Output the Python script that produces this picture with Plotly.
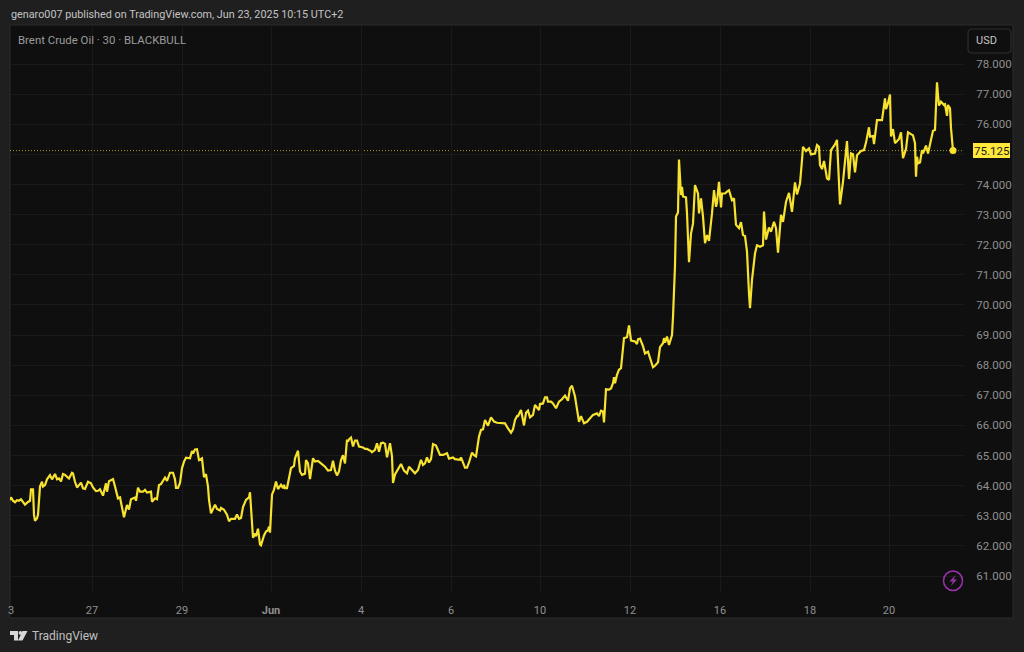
import plotly.graph_objects as go

W, H = 1024, 652

tick_bars = [1, 82, 172, 261, 351, 441, 530, 620, 710, 800, 879]
tick_text = ["3", "27", "29", "<b>Jun</b>", "4", "6", "10", "12", "16", "18", "20"]
price_ticks = [61, 62, 63, 64, 65, 66, 67, 68, 69, 70, 71, 72, 73, 74, 75, 76, 77, 78]
price_labels = ["" if v == 75 else f"{v:.3f}" for v in price_ticks]
last_price = 75.125

bars_a = [0,1,3,5,7,9,11,13,15,18,20,21,23,24,25,27,28,30,32,33,35,37,40,42,45,47,49,51,53,55,59,62,63,65,67,71,73,75,78,81,83,86,88,90,93,96,97,99,103,105,108,110,112,114,117,119,121,125,126,128,130,133,135,137,141,142,145,147,149,151,155,157,160,163,165,166,168]
prices_a = [63.52,63.61,63.50,63.45,63.52,63.50,63.55,63.44,63.37,63.46,63.50,63.88,63.88,63.03,62.83,62.92,63.03,63.97,64.13,63.97,64.02,64.21,64.35,64.21,64.39,64.21,64.24,64.14,64.39,64.36,64.24,64.43,64.41,64.13,63.94,64.10,63.91,63.89,64.13,64.08,63.94,63.82,63.83,63.88,63.67,64.08,63.80,64.15,64.22,63.97,63.58,63.61,63.25,62.95,63.36,63.21,63.55,63.61,63.50,63.93,63.80,63.80,63.86,63.77,63.80,63.47,63.58,63.55,64.02,64.05,64.27,64.16,64.43,64.43,64.21,63.93,63.93]

bars_b = [170,172,174,176,180,182,183,185,187,189,192,194,196,198,199,201,203,205,207,210,211,214,217,219,221,225,227,229,231,233,236,239,240,243,245,246,248,250,251,254,256,258,259,260,262,264,266,268,271,273,274,275,277,281,284,285,288,290,292,295,296,298,300,303,305,308,311,315,318,321,323,325,327,329,331,333,335,337]
prices_b = [64.09,64.58,64.80,64.93,64.91,65.15,65.07,65.20,65.21,64.85,64.91,64.28,64.38,63.97,63.53,63.08,63.26,63.37,63.23,63.18,63.26,63.20,63.04,62.82,62.90,62.90,63.04,62.90,62.93,63.29,63.53,63.61,63.78,62.27,62.41,62.32,62.57,62.05,62.02,62.35,62.48,62.52,62.64,62.44,63.70,63.87,64.14,63.89,64.03,63.92,64.03,63.92,63.92,64.58,64.66,64.91,65.16,64.47,64.36,64.40,64.85,64.74,64.22,64.91,64.80,64.82,64.74,64.63,64.50,64.52,64.83,64.50,64.34,64.47,64.85,65.01,64.74,65.53]

bars_c = [338,339,341,343,345,347,349,353,355,357,361,362,365,367,369,371,373,375,377,380,382,383,385,387,391,394,397,399,402,405,408,411,413,415,417,419,421,423,426,430,433,437,439,443,445,449,450,451,453,455,457,459,462,464,466,469,471,473,475,478,481,484,487,490,493,495,498,501,503,505,507]
prices_c = [65.46,65.54,65.60,65.30,65.50,65.50,65.30,65.27,65.22,65.22,65.15,65.11,65.19,65.41,65.13,65.41,65.43,65.39,64.94,65.41,64.97,64.09,64.37,64.50,64.72,64.50,64.41,64.63,64.50,64.41,64.52,64.86,64.69,64.74,64.94,64.77,64.88,65.38,65.33,65.02,65.02,65.08,64.90,64.94,64.88,64.88,64.86,64.94,64.74,64.60,64.60,64.77,65.10,65.01,64.97,65.63,65.85,65.87,66.18,65.99,66.27,66.13,66.09,66.09,66.07,66.07,65.90,65.76,65.87,66.18,66.31]

bars_d = [508,511,514,516,518,520,523,525,527,529,530,533,535,537,538,541,543,546,549,552,555,558,560,562,565,567,569,571,574,577,580,583,587,589,591,593,594,596,599,601,603,604,605,607,609,611,614,617,619,621,625,627,628,630,633,635,638,641,643,645,648,650,653,654,655,657,659,662]
prices_d = [66.31,66.51,66.00,66.42,66.49,66.27,66.35,66.68,66.60,66.51,66.71,66.73,66.93,66.93,66.79,66.79,66.73,66.57,66.79,66.87,66.99,66.82,67.23,67.32,66.96,66.57,66.12,66.31,66.07,66.12,66.23,66.35,66.40,66.31,66.49,66.46,66.10,67.20,67.19,67.23,67.40,67.60,67.40,67.68,67.85,67.90,68.90,68.93,69.32,68.82,68.79,68.70,68.86,68.88,68.63,68.39,68.45,68.17,67.93,67.98,68.10,68.60,68.73,68.90,68.75,68.95,68.67,69.00]

bars_e = [663,665,666,668,669,671,672,673,676,677,679,681,683,685,688,689,691,693,695,697,699,702,704,706,707,709,711,712,715,717,719,722,724,726,729,731,733,735,737,739,740,742,745,747,750,753,754,756,759,761,764,766,768,771,773,776,779,782,785,787,790,792,793]
prices_e = [69.60,71.30,72.94,73.07,74.83,73.65,73.92,73.60,73.57,73.04,71.42,72.37,72.70,73.98,73.70,73.04,73.54,72.93,72.05,72.32,72.13,73.04,73.81,73.26,73.40,74.09,73.24,73.70,73.70,73.76,73.81,73.48,73.54,72.66,72.55,72.75,72.32,72.29,71.77,70.39,69.89,70.83,71.71,71.98,71.93,71.98,73.10,72.17,72.57,72.43,72.76,72.55,71.74,72.99,72.76,73.42,73.72,73.09,74.07,73.67,74.03,74.81,75.25]

bars_f = [796,799,801,805,807,809,810,812,814,817,819,821,825,827,830,833,837,839,841,843,845,847,851,854,856,859,860,863,864,867,872,875,876,878,880,881,883,885,889,891,893,896,898,901,903,905,906,907,908,910,912,913,916,918,921,923,925,927,928,929,931,934,935,937,938,940,941,943]
prices_f = [75.11,75.20,75.00,75.03,75.31,75.25,74.65,74.51,74.78,74.20,74.15,75.14,75.33,75.48,73.34,74.09,75.44,74.18,75.03,75.00,74.40,74.97,75.11,75.14,75.39,75.90,75.59,75.61,75.34,76.14,76.14,76.86,76.50,76.70,76.99,75.59,75.84,75.37,75.51,75.73,74.87,75.18,75.73,75.66,75.63,75.37,74.26,74.92,74.70,74.73,75.14,75.03,75.29,75.03,75.53,75.78,75.81,77.39,76.97,76.62,76.75,76.64,76.66,76.28,76.64,76.53,75.87,75.125]

bars = bars_a + bars_b + bars_c + bars_d + bars_e + bars_f
prices = prices_a + prices_b + prices_c + prices_d + prices_e + prices_f

LEFT, AXR, RIGHT, TOP, AXB, BOT = 10, 964, 1013, 25, 592, 618
def fx(p): return p / W
def fy(p): return 1 - p / H

FONT = "Roboto"
LINE = "#f7e22f"
fig = go.Figure()
fig.add_trace(go.Scatter(x=bars, y=prices, mode="lines", line=dict(color=LINE, width=2.2), hoverinfo="skip"))
fig.add_trace(go.Scatter(x=[bars[-1]], y=[prices[-1]], mode="markers", marker=dict(color=LINE, size=7), hoverinfo="skip"))

def rect(x0, y0, x1, y1, fill, line=None, layer="below", w=1):
    return dict(type="rect", xref="paper", yref="paper", x0=fx(x0), x1=fx(x1), y0=fy(y0), y1=fy(y1),
                fillcolor=fill, line=dict(color=line or fill, width=w if line else 0), layer=layer)

def rpath(x0, y0, x1, y1, r):
    P = lambda a, b: f"{fx(a)} {fy(b)}"
    return (f"M {P(x0+r,y0)} L {P(x1-r,y0)} Q {P(x1,y0)} {P(x1,y0+r)} L {P(x1,y1-r)} Q {P(x1,y1)} {P(x1-r,y1)} "
            f"L {P(x0+r,y1)} Q {P(x0,y1)} {P(x0,y1-r)} L {P(x0,y0+r)} Q {P(x0,y0)} {P(x0+r,y0)} Z")

def poly(pts):
    return "M " + " L ".join(f"{fx(a)} {fy(b)}" for a, b in pts) + " Z"

LOGO = "#d8d8d8"
shapes = [
    rect(LEFT, TOP, RIGHT, BOT, "#0f0f0f", "#2c2c2c"),
    dict(type="line", xref="paper", yref="y", x0=fx(LEFT), x1=fx(AXR), y0=last_price, y1=last_price,
         line=dict(color="#a89a28", width=1, dash="1px,2px"), layer="below"),
    dict(type="path", xref="paper", yref="paper", path=rpath(968, 29, 1011, 53, 4), fillcolor="#0f0f0f",
         line=dict(color="#2e2e2e", width=1.2), layer="above"),
    rect(973, 143, 1010, 158, "#ffe83b", layer="above"),
    dict(type="circle", xref="paper", yref="paper", x0=fx(943.5), x1=fx(962.5), y0=fy(571), y1=fy(590.5),
         fillcolor="rgba(0,0,0,0)", line=dict(color="#9a30ae", width=1.5), layer="above"),
    dict(type="path", xref="paper", yref="paper",
         path=poly([(955.5, 575), (949.5, 581.5), (952.8, 581.5), (951, 586), (957, 579.5), (953.7, 579.5)]),
         fillcolor="#9a30ae", line=dict(width=0), layer="above"),
    dict(type="path", xref="paper", yref="paper",
         path=poly([(10, 631), (18, 631), (18, 640.5), (14, 640.5), (14, 635), (10, 635)]),
         fillcolor=LOGO, line=dict(width=0), layer="above"),
    dict(type="circle", xref="paper", yref="paper", x0=fx(18.6), x1=fx(22.2), y0=fy(631), y1=fy(634.8),
         fillcolor=LOGO, line=dict(width=0), layer="above"),
    dict(type="path", xref="paper", yref="paper",
         path=poly([(22.5, 631), (27.5, 631), (22.5, 640.5), (18, 640.5)]),
         fillcolor=LOGO, line=dict(width=0), layer="above"),
]

def note(text, x, y, size, color, anchor="left", **kw):
    return dict(text=text, xref="paper", yref="paper", x=fx(x), y=fy(y), xanchor=anchor, yanchor="middle",
                showarrow=False, font=dict(family=FONT, size=size, color=color), **kw)

annotations = [
    note("genaro007 published on TradingView.com, Jun 23, 2025 10:15 UTC+2", 9, 15, 10.8, "#c4c4c4"),
    note("Brent Crude Oil · 30 · BLACKBULL", 16, 40, 11.4, "#9c9c9c"),
    note("USD", 986, 41, 11, "#c4c4c4", anchor="center"),
    note("TradingView", 30, 636, 12, "#c0c0c0"),
    dict(text=f"{last_price:.3f}", xref="paper", yref="y", x=fx(991.5), y=last_price, xanchor="center",
         yanchor="middle", showarrow=False, font=dict(family=FONT, size=11.5, color="#1a1a1a")),
]

GRID = "#1a1a1a"
fig.update_layout(
    width=W, height=H, showlegend=False, autosize=False,
    paper_bgcolor="#1f1f1f", plot_bgcolor="rgba(0,0,0,0)",
    margin=dict(l=0, r=0, t=0, b=0, pad=0, autoexpand=False),
    shapes=shapes, annotations=annotations,
    xaxis=dict(domain=[fx(LEFT), fx(AXR)], range=[0, AXR - LEFT], tickmode="array", tickvals=tick_bars,
               ticktext=tick_text, showgrid=True, gridcolor=GRID, gridwidth=1, zeroline=False, showline=False,
               ticks="outside", ticklen=8, tickcolor="rgba(0,0,0,0)", automargin=False,
               tickfont=dict(family=FONT, size=11, color="#8f8f8f")),
    yaxis=dict(domain=[fy(AXB), fy(TOP)], range=[60.47, 79.295], side="right", anchor="x", tickmode="array",
               tickvals=price_ticks, ticktext=price_labels, showgrid=True, gridcolor=GRID, automargin=False,
               gridwidth=1, zeroline=False, showline=False, ticks="outside", ticklen=9,
               tickcolor="rgba(0,0,0,0)", tickfont=dict(family=FONT, size=11.5, color="#8f8f8f")),
)
fig.write_html("out.html", config={"displayModeBar": False},
               post_script="document.body.style.margin='0';document.body.style.background='#1f1f1f';")
